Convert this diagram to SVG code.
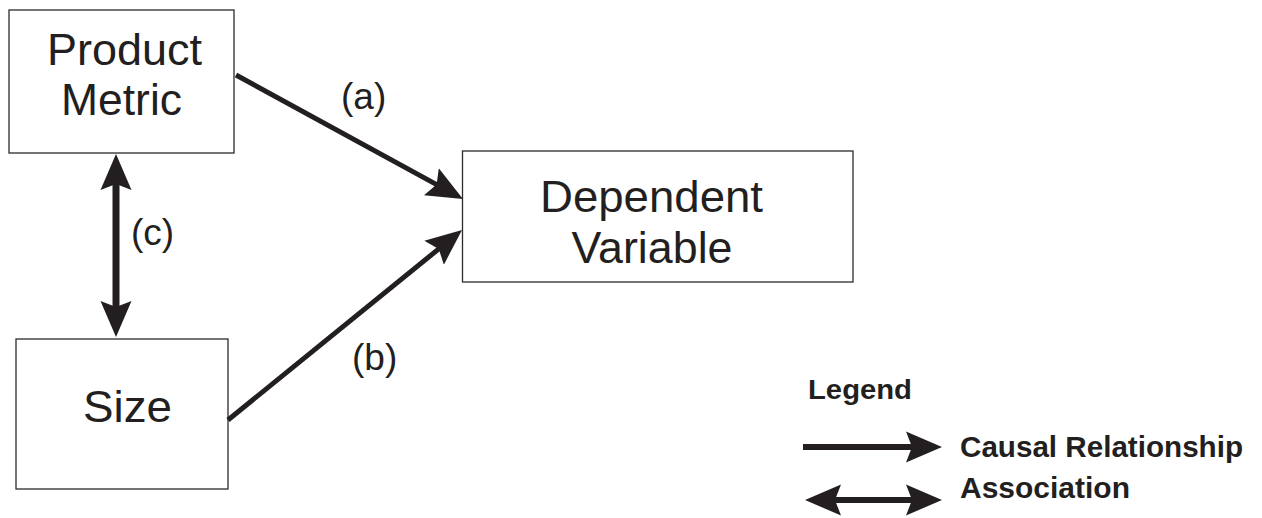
<svg xmlns="http://www.w3.org/2000/svg" width="1262" height="518" viewBox="0 0 1262 518">
<style>
.box{fill:#fff;stroke:#2b2b2b;stroke-width:1.3}
.lbl{font-family:"Liberation Sans",Arial,sans-serif;font-size:44px;fill:#231f20}
.tag{font-family:"Liberation Sans",Arial,sans-serif;font-size:37px;fill:#231f20}
.leg{font-family:"Liberation Sans",Arial,sans-serif;font-weight:bold;fill:#231f20}
.ln{stroke:#231f20;fill:none}
</style>
<defs>
<marker id="ah" viewBox="-36 -16 37 32" markerWidth="37" markerHeight="32" refX="-20" refY="0" orient="auto-start-reverse" markerUnits="userSpaceOnUse">
<path d="M0,0 L-36,-15.5 L-30,0 L-36,15.5 Z" fill="#231f20"/>
</marker>
</defs>
<rect width="1262" height="518" fill="#fff"/>
<g id="product-metric">
<rect class="box" x="9" y="10" width="225" height="143"/>
<text class="lbl" x="124.5" y="65" text-anchor="middle" textLength="155" lengthAdjust="spacingAndGlyphs">Product</text>
<text class="lbl" x="121.5" y="115" text-anchor="middle" textLength="121" lengthAdjust="spacingAndGlyphs">Metric</text>
</g>
<g id="size">
<rect class="box" x="16" y="339" width="212" height="150"/>
<text class="lbl" x="127.5" y="422" text-anchor="middle" textLength="89" lengthAdjust="spacingAndGlyphs">Size</text>
</g>
<g id="dependent-variable">
<rect class="box" x="462.5" y="151" width="390.5" height="131"/>
<text class="lbl" x="651.5" y="212" text-anchor="middle" textLength="223" lengthAdjust="spacingAndGlyphs">Dependent</text>
<text class="lbl" x="652" y="263" text-anchor="middle" textLength="161" lengthAdjust="spacingAndGlyphs">Variable</text>
</g>
<g id="connectors">
<line class="ln" x1="236" y1="75" x2="445.4" y2="189.4" stroke-width="5" marker-end="url(#ah)"/>
<line class="ln" x1="228" y1="420" x2="446.5" y2="242.6" stroke-width="5" marker-end="url(#ah)"/>
<line class="ln" x1="116" y1="174" x2="116" y2="317" stroke-width="7" marker-start="url(#ah)" marker-end="url(#ah)"/>
<text class="tag" x="341" y="109">(a)</text>
<text class="tag" x="352" y="370">(b)</text>
<text class="tag" x="131" y="245">(c)</text>
</g>
<g id="legend">
<text class="leg" x="808" y="399" font-size="27" textLength="104" lengthAdjust="spacingAndGlyphs">Legend</text>
<line class="ln" x1="803" y1="447" x2="922" y2="447" stroke-width="6" marker-end="url(#ah)"/>
<text class="leg" x="960" y="457" font-size="29" textLength="283" lengthAdjust="spacingAndGlyphs">Causal Relationship</text>
<line class="ln" x1="825" y1="500" x2="922" y2="500" stroke-width="6" marker-start="url(#ah)" marker-end="url(#ah)"/>
<text class="leg" x="960" y="498" font-size="29" textLength="170" lengthAdjust="spacingAndGlyphs">Association</text>
</g>
</svg>
